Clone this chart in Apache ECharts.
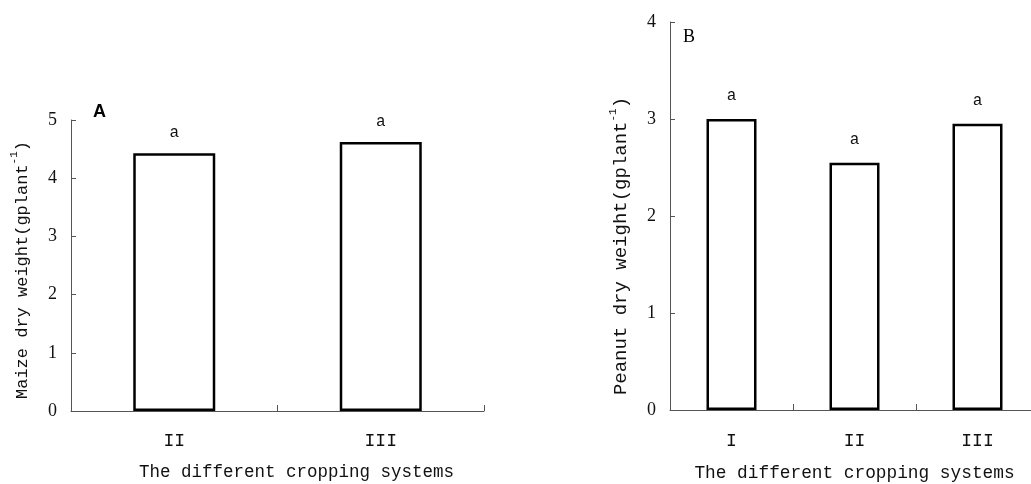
<!DOCTYPE html>
<html>
<head>
<meta charset="utf-8">
<script src="https://cdn.jsdelivr.net/npm/echarts@6/dist/echarts.min.js"></script>
<style>html,body{margin:0;padding:0;background:#fff}#c{width:1031px;height:484px}</style>
</head>
<body>
<div id="c"></div>
<script>
const catsA = ['II', 'III'];
const valsA = [4.43, 4.62];
const sigA = ['a', 'a'];
const catsB = ['I', 'II', 'III'];
const valsB = [3.0, 2.55, 2.95];
const sigB = ['a', 'a', 'a'];
const xTitle = 'The different cropping systems';
const yTitleA = ['Maize dry weight(gplant', '-1', ')'];
const yTitleB = ['Peanut dry weight(gplant', '-1', ')'];

const chart = echarts.init(document.getElementById('c'), null, {renderer: 'canvas'});
const mono = 'Liberation Mono';
const serif = 'Liberation Serif';
const axisLine = {lineStyle: {color: '#555', width: 1}};

function yName(parts) {
  return '{n|' + parts[0] + '}{s|' + parts[1] + '}{n|' + parts[2] + '}';
}
function yAxisCfg(idx, max, parts, size, gap, pad) {
  return {
    type: 'value', gridIndex: idx, min: 0, max: max, interval: 1,
    splitLine: {show: false},
    axisLine: {show: true, lineStyle: {color: '#555', width: 1}},
    axisTick: {show: true, inside: true, length: 5, lineStyle: {color: '#555'}},
    axisLabel: {color: '#111', fontFamily: serif, fontSize: 18, margin: 14},
    name: yName(parts), nameLocation: 'middle', nameGap: gap, nameRotate: 90,
    nameTextStyle: {
      padding: pad,
      rich: {
        n: {fontFamily: mono, fontSize: size, color: '#111', lineHeight: 22, verticalAlign: 'bottom'},
        s: {fontFamily: mono, fontSize: 11, color: '#111', lineHeight: 22, verticalAlign: 'top'}
      }
    }
  };
}
function xAxisCfg(idx, cats, gap, pad, size, margin) {
  return {
    type: 'category', gridIndex: idx, data: cats,
    axisLine: axisLine,
    axisTick: {show: true, inside: true, length: 6, lineStyle: {color: '#555'}},
    axisLabel: {color: '#111', fontFamily: mono, fontSize: 18, margin: margin},
    name: xTitle, nameLocation: 'middle', nameGap: gap,
    nameTextStyle: {fontFamily: mono, fontSize: size, color: '#111', padding: pad}
  };
}
function barSeries(idx, vals, sig, width, dist) {
  return {
    type: 'bar', xAxisIndex: idx, yAxisIndex: idx, barWidth: width,
    data: vals,
    itemStyle: {color: '#fff', borderColor: '#000', borderWidth: 2.5},
    label: {show: true, position: 'top', distance: dist, fontFamily: mono, fontSize: 16, color: '#111',
      formatter: p => sig[p.dataIndex]},
    silent: true, animation: false
  };
}

chart.setOption({
  animation: false,
  grid: [
    {left: 71, top: 120, width: 413, height: 291, containLabel: false, outerBoundsMode: 'none'},
    {left: 670, top: 22, width: 369, height: 388, containLabel: false, outerBoundsMode: 'none'}
  ],
  xAxis: [xAxisCfg(0, catsA, 52, [0, 0, 0, 38], 17.5, 21), xAxisCfg(1, catsB, 54, 0, 17.8, 22)],
  yAxis: [yAxisCfg(0, 5, yTitleA, 17, 40, [0, 9, 0, 0]), yAxisCfg(1, 4, yTitleB, 19, 40, [0, 60, 0, 0])],
  series: [barSeries(0, valsA, sigA, 82, 12), barSeries(1, valsB, sigB, 50, 15)],
  graphic: [
    {type: 'text', left: 93, top: 103, style: {text: 'A', font: 'bold 18px "Liberation Sans"', fill: '#000'}},
    {type: 'text', left: 683, top: 28, style: {text: 'B', font: '18px "Liberation Serif"', fill: '#000'}}
  ]
});
</script>
</body>
</html>
